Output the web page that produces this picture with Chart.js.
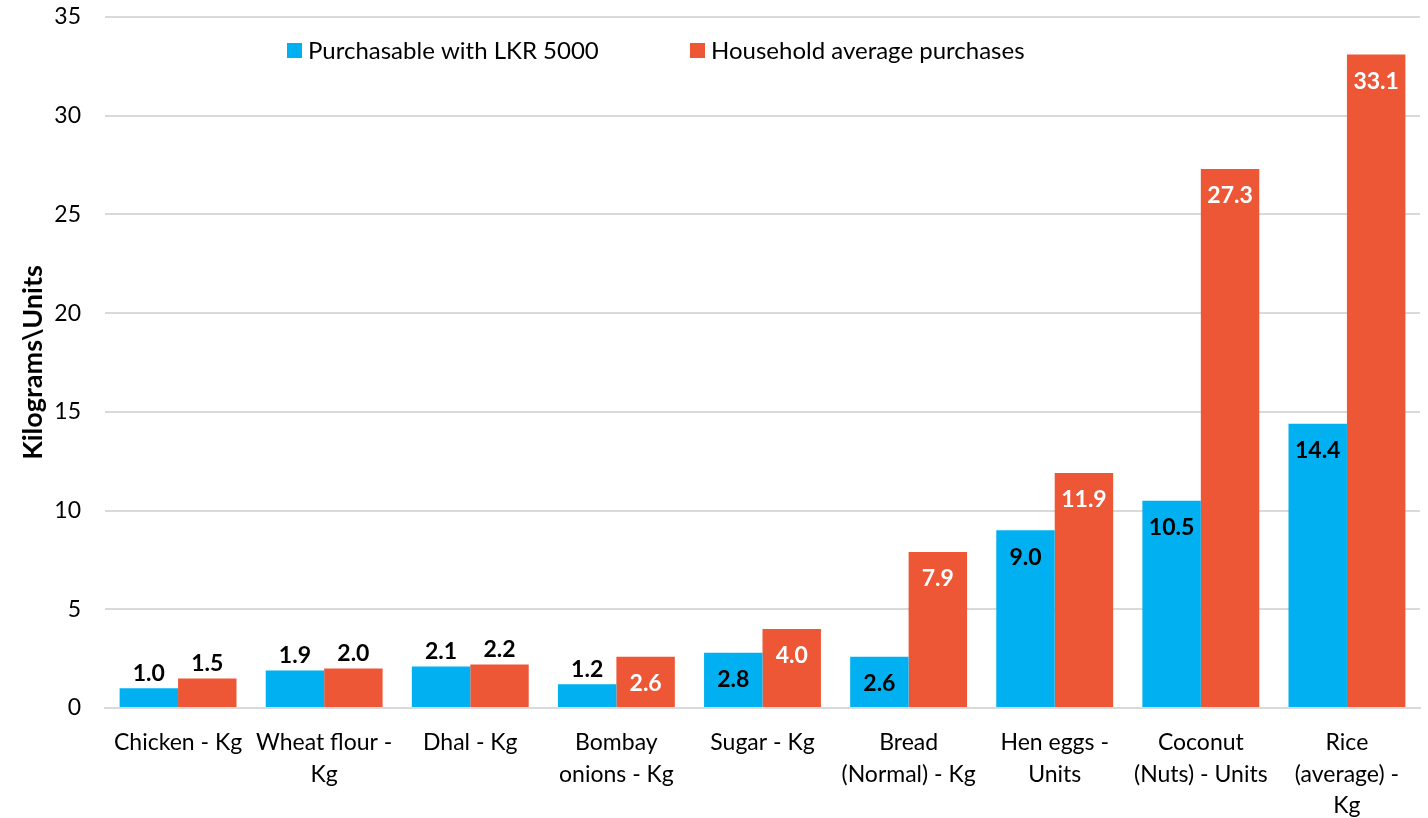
<!DOCTYPE html>
<html>
<head>
<meta charset="utf-8">
<title>Purchasable quantities</title>
<script src="https://cdn.jsdelivr.net/npm/chart.js@4.4.1/dist/chart.umd.min.js"></script>
<style>
  html, body { margin: 0; padding: 0; background: #fff; overflow: hidden; }
  #wrap { width: 1428px; height: 830px; }
</style>
</head>
<body>
<div id="wrap"><canvas id="grafico"></canvas></div>
<script>
const categories = [
  'Chicken - Kg',
  ['Wheat flour -', 'Kg'],
  'Dhal - Kg',
  ['Bombay', 'onions - Kg'],
  'Sugar - Kg',
  ['Bread', '(Normal) - Kg'],
  ['Hen eggs -', 'Units'],
  ['Coconut', '(Nuts) - Units'],
  ['Rice', '(average) -', 'Kg']
];
const purchasable = [1.0, 1.9, 2.1, 1.2, 2.8, 2.6, 9.0, 10.5, 14.4];
const householdAvg = [1.5, 2.0, 2.2, 2.6, 4.0, 7.9, 11.9, 27.3, 33.1];
const yTicks = [0, 5, 10, 15, 20, 25, 30, 35];

const BLUE = '#00B0F0';
const ORANGE = '#EE5736';
const FONT = 'Lato, "Open Sans", sans-serif';

// value labels: inside the top of tall bars, above short ones
const barLabels = {
  id: 'barLabels',
  afterDatasetsDraw(chart) {
    const ctx = chart.ctx;
    ctx.save();
    ctx.font = 'bold 23px ' + FONT;
    ctx.textAlign = 'center';
    ctx.textBaseline = 'middle';
    chart.data.datasets.forEach((ds, i) => {
      chart.getDatasetMeta(i).data.forEach((bar, j) => {
        const txt = ds.data[j].toFixed(1);
        const h = bar.base - bar.y;
        if (h > 45) {
          ctx.fillStyle = ds.insideLabel;
          ctx.fillText(txt, bar.x, bar.y + 27);
        } else {
          ctx.fillStyle = '#000';
          ctx.fillText(txt, bar.x, bar.y - 15);
        }
      });
    });
    ctx.restore();
  }
};

// legend sits inside the plot, under the top gridline
const innerLegend = {
  id: 'innerLegend',
  afterDraw(chart) {
    const ctx = chart.ctx;
    const a = chart.chartArea;
    const offsets = [182, 585];
    ctx.save();
    ctx.font = '24px ' + FONT;
    ctx.textBaseline = 'middle';
    ctx.textAlign = 'left';
    chart.data.datasets.forEach((ds, i) => {
      const x = a.left + offsets[i];
      const y = a.top + 33;
      ctx.fillStyle = ds.backgroundColor;
      ctx.fillRect(x, y - 7, 15, 15);
      ctx.fillStyle = '#000';
      ctx.fillText(ds.label, x + 21, y + 1);
    });
    ctx.restore();
  }
};

new Chart(document.getElementById('grafico'), {
  type: 'bar',
  data: {
    labels: categories,
    datasets: [
      { label: 'Purchasable with LKR 5000', data: purchasable, backgroundColor: BLUE, insideLabel: '#000' },
      { label: 'Household average purchases', data: householdAvg, backgroundColor: ORANGE, insideLabel: '#fff' }
    ]
  },
  options: {
    responsive: true,
    maintainAspectRatio: false,
    animation: false,
    layout: { padding: { top: 17, right: 8, bottom: 0, left: 0 } },
    datasets: { bar: { categoryPercentage: 0.8, barPercentage: 1.0 } },
    plugins: {
      legend: { display: false },
      tooltip: { enabled: false }
    },
    scales: {
      x: {
        grid: { display: false, drawTicks: false },
        border: { color: '#d9d9d9', width: 2 },
        ticks: {
          color: '#000',
          font: { family: FONT, size: 23, lineHeight: 1.37 },
          padding: 19,
          autoSkip: false,
          maxRotation: 0
        },
        afterFit(scale) { scale.height = 122; }
      },
      y: {
        min: 0,
        max: 35,
        afterBuildTicks(scale) { scale.ticks = yTicks.map(v => ({ value: v })); },
        grid: { color: '#d9d9d9', lineWidth: 2, drawTicks: false },
        border: { display: false },
        ticks: {
          color: '#000',
          font: { family: FONT, size: 23 },
          padding: 24
        },
        title: {
          display: true,
          text: 'Kilograms\\Units',
          color: '#000',
          font: { family: FONT, size: 27, weight: 'bold' },
          padding: { top: 17, bottom: 0 }
        },
        afterFit(scale) {
          scale.width = 105;
          // tick padding would otherwise push the plot top down
          scale.paddingTop = 0;
          scale.paddingBottom = 0;
        }
      }
    }
  },
  plugins: [barLabels, innerLegend]
});
</script>
</body>
</html>
